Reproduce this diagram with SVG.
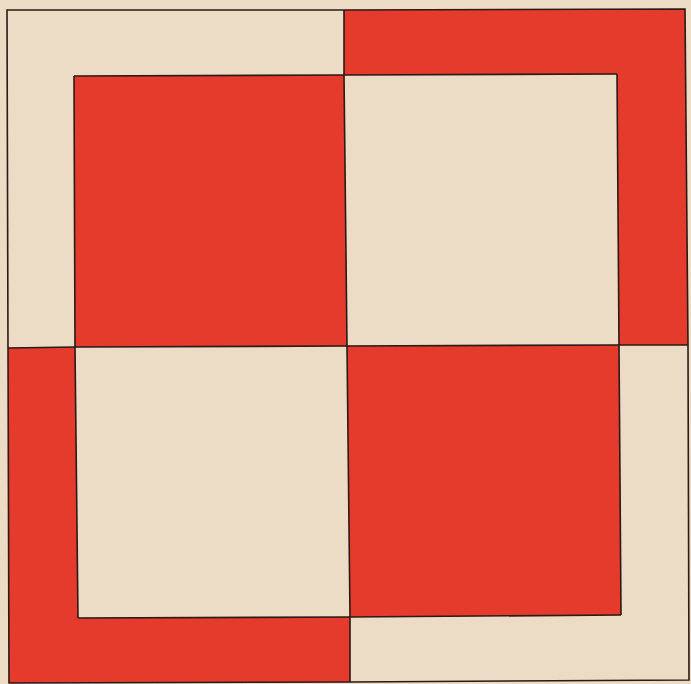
<svg xmlns="http://www.w3.org/2000/svg" width="691" height="684" viewBox="0 0 691 684">
<style>
.red{fill:#e43b2c}
.ln{fill:none;stroke:#2b1a16;stroke-width:1.6;stroke-linejoin:miter}
</style>
<rect x="0" y="0" width="691" height="684" fill="#ecdcc5"/>
<g id="red-fields">
<polygon class="red" points="74,76 344,75 347,346 75,347"/>
<polygon class="red" points="347,346 619,345 621,615 350,617"/>
<polygon class="red" points="344,10 685,9 688,345 619,345 617,74 344,75"/>
<polygon class="red" points="8,348 75,347 78,618 350,617 350,682 9,683"/>
</g>
<g id="lines">
<polygon class="ln" points="7,10 344,10 685,9 688,345 689,680 350,682 9,683 8,348"/>
<polyline class="ln" points="74,76 344,75 617,74"/>
<polyline class="ln" points="8,348 75,347 347,346 619,345 688,345"/>
<polyline class="ln" points="78,618 350,617 621,615"/>
<polyline class="ln" points="74,76 75,347 78,618"/>
<polyline class="ln" points="344,10 344,75 347,346 350,617 350,682"/>
<polyline class="ln" points="617,74 619,345 621,615"/>
</g>
</svg>
